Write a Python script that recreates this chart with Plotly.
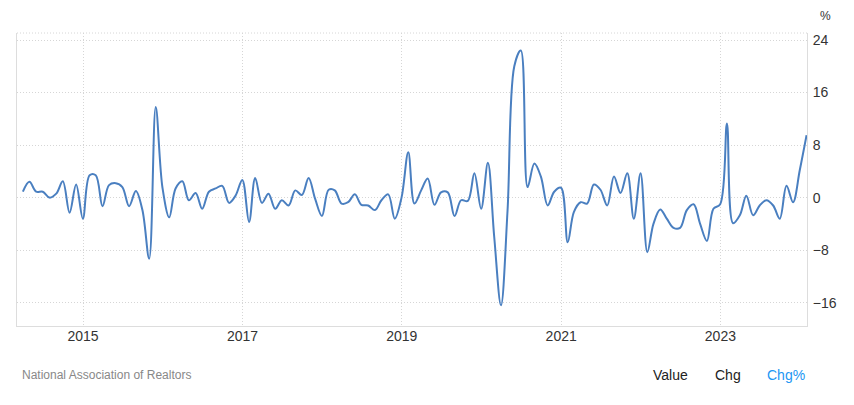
import pandas as pd
import plotly.graph_objects as go

start_month = "2014-03-31"
values = [
    0.9, 2.4, 0.9, 0.9, 0.0, 0.6, 2.5, -2.3, 2.0, -3.2,
    3.4, 3.4, -1.3, 1.9, 2.2, 1.6, -1.3, 1.0, -1.9, -9.3,
    13.8, 1.5, -3.0, 1.4, 2.5, -0.4, 0.7, -1.7, 0.9, 1.4,
    1.8, -0.8, 0.3, 2.7, -3.7, 3.0, -0.8, 0.6, -1.7, -0.4,
    -1.2, 1.1, 0.4, 3.0, -0.2, -2.8, 1.2, 1.1, -0.9, -0.7,
    0.5, -1.1, -1.2, -1.9, -0.4, 0.5, -3.2, 0.0, 6.9, -0.9,
    1.1, 2.9, -1.1, 0.8, 0.8, -2.8, -0.4, -0.5, 3.7, -1.7,
    5.3, -6.0, -16.4, -2.0, 20.0, 22.4, 1.6, 5.2, 3.2, -1.2,
    0.9, 1.5, -6.8, -2.2, -0.7, -0.9, 2.0, 1.2, -1.2, 3.2,
    0.7, 3.7, -3.2, 3.7, -8.3, -4.0, -1.8, -3.2, -4.6, -4.6,
    -1.9, -1.0, -4.0, -6.6, -1.7, -1.0, 11.3, -3.9, -2.7, 0.3,
    -2.7, -1.2, -0.4, -1.2, -3.2, 1.8, -0.7, 4.2, 9.5,
]
dates = pd.date_range(start_month, periods=len(values), freq="ME")

y_ticks = [-16, -8, 0, 8, 16, 24]
x_tick_years = ["2015", "2017", "2019", "2021", "2023"]
source_text = "National Association of Realtors"
buttons = ["Value", "Chg", "Chg%"]

# the page body has an 8px margin; work in page pixels and shift
OFF = 8
W, H = 854 - OFF, 405 - OFF
L, R, T, B = 16.7 - OFF, 807.0 - OFF, 33.0 - OFF, 326.0 - OFF


def px_x(p):
    return (p - OFF - L) / (R - L)


def px_y(p):
    return (B - (p - OFF)) / (B - T)


fig = go.Figure()
fig.add_trace(go.Scatter(
    x=dates, y=values, mode="lines",
    line=dict(color="#4a7fc0", width=2, shape="spline", smoothing=1),
    hoverinfo="skip",
))

font_family = "Liberation Sans, Arial, sans-serif"
grid_col = "#d6d6d6"
grid_dash = "1px,2px"

fig.update_layout(
    width=W, height=H,
    margin=dict(l=L, r=W - R, t=T, b=H - B, autoexpand=False),
    paper_bgcolor="white", plot_bgcolor="white",
    showlegend=False,
    font=dict(family=font_family, size=14, color="#333333"),
    xaxis=dict(
        range=["2014-03-04", "2024-02-02"],
        tickvals=[f"{y}-01-01" for y in x_tick_years],
        ticktext=x_tick_years,
        showgrid=True, gridcolor=grid_col, griddash=grid_dash, gridwidth=1,
        showline=True, linecolor="#dddddd", linewidth=1,
        ticks="", ticklabelstandoff=-3,
        tickfont=dict(size=14, color="#333333"),
        zeroline=False, automargin=False,
    ),
    yaxis=dict(
        range=[-19.55, 25.07],
        side="right",
        tickvals=y_ticks,
        showgrid=True, gridcolor=grid_col, griddash=grid_dash, gridwidth=1,
        showline=True, mirror=True, linecolor="#dddddd", linewidth=1,
        ticks="", ticklabelstandoff=2,
        tickfont=dict(size=14, color="#333333"),
        zeroline=False, automargin=False,
    ),
)

# dotted top border
fig.add_shape(type="line", xref="paper", yref="paper", x0=0, x1=1, y0=1, y1=1,
              line=dict(color=grid_col, width=1, dash=grid_dash))

fig.add_annotation(text="%", xref="paper", yref="paper", x=px_x(826), y=px_y(8.5),
                   showarrow=False, font=dict(size=12, color="#333333"),
                   xanchor="center", yanchor="top", borderpad=0)
fig.add_annotation(text=source_text, xref="paper", yref="paper", x=px_x(20), y=px_y(375),
                   showarrow=False, font=dict(size=12, color="#888888"),
                   xanchor="left", yanchor="middle")
btn_pos = [(670, "#222222"), (728, "#222222"), (786, "#2196f3")]
for label, (cx, col) in zip(buttons, btn_pos):
    fig.add_annotation(text=label, xref="paper", yref="paper", x=px_x(cx), y=px_y(375),
                       showarrow=False, font=dict(size=14, color=col),
                       xanchor="center", yanchor="middle")

fig.write_html("out.html")
